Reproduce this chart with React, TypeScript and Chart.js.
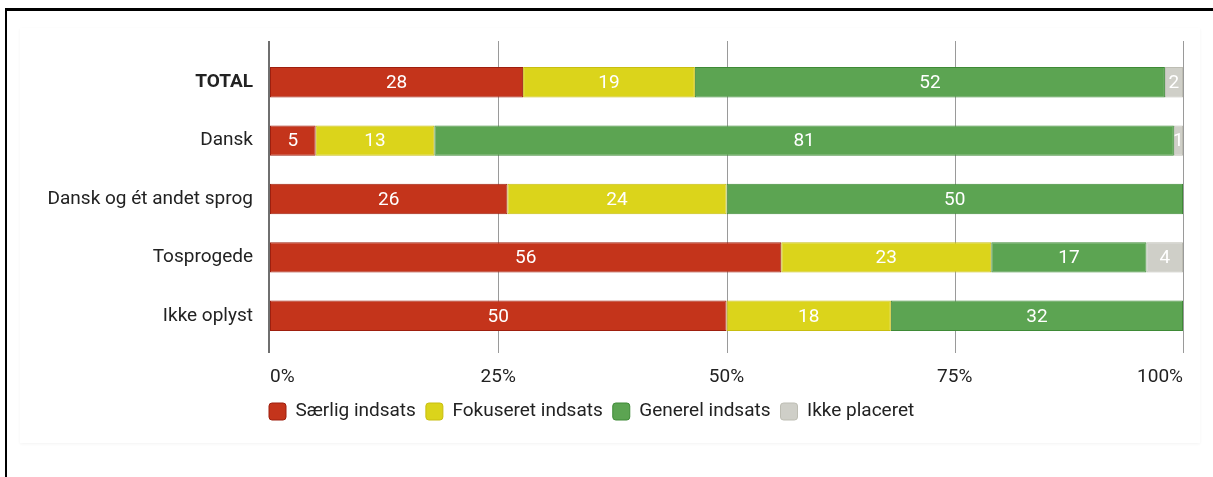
import React, { useEffect, useRef } from "react";
import { Chart, registerables } from "chart.js";

Chart.register(...registerables);

const categories = ["TOTAL", "Dansk", "Dansk og ét andet sprog", "Tosprogede", "Ikke oplyst"];
const seriesNames = ["Særlig indsats", "Fokuseret indsats", "Generel indsats", "Ikke placeret"];
const saerligIndsats = [28, 5, 26, 56, 50];
const fokuseretIndsats = [19, 13, 24, 23, 18];
const generelIndsats = [52, 81, 50, 17, 32];
const ikkePlaceret = [2, 1, 0, 4, 0];
const tickLabels = ["0%", "25%", "50%", "75%", "100%"];

const fillColors = ["#c4341b", "#dbd41b", "#5ca452", "#cfcfc8"];
const borderColors = ["#9e1f0e", "#c8be10", "#3e8a36", "#bdbdb3"];

const FONT = "Roboto, 'Noto Sans', sans-serif";
const FS = 19;

const seriesValues = [saerligIndsats, fokuseretIndsats, generelIndsats, ikkePlaceret];

export default function App() {
  const canvasRef = useRef<HTMLCanvasElement | null>(null);

  useEffect(() => {
    if (!canvasRef.current) return;
    const rowTotals = categories.map((_, j) =>
      seriesValues.reduce((s, arr) => s + arr[j], 0)
    );
    const datasets = seriesNames.map((name, i) => ({
      label: name,
      data: seriesValues[i].map((v, j) => (v / rowTotals[j]) * 100),
      rawValues: seriesValues[i],
      backgroundColor: fillColors[i],
      borderColor: borderColors[i],
      borderWidth: 1,
      borderSkipped: false as const,
      barPercentage: 0.52,
      categoryPercentage: 1,
    }));

    const gridPlugin = {
      id: "extendedGrid",
      beforeDatasetsDraw(chart: any) {
        const ctx = chart.ctx;
        const xs = chart.scales.x;
        const { top, bottom } = chart.chartArea;
        ctx.save();
        xs.ticks.forEach((t: any, i: number) => {
          const px = Math.round(xs.getPixelForValue(t.value));
          ctx.beginPath();
          if (i === 0) {
            ctx.strokeStyle = "#6f6f6f";
            ctx.lineWidth = 2;
            ctx.moveTo(px - 1, top - 12);
            ctx.lineTo(px - 1, bottom + 8);
          } else {
            ctx.strokeStyle = "#9a9a9a";
            ctx.lineWidth = 1;
            ctx.moveTo(px + 0.5, top - 12);
            ctx.lineTo(px + 0.5, bottom + 8);
          }
          ctx.stroke();
        });
        ctx.restore();
      },
    };

    const labelPlugin = {
      id: "barLabels",
      afterDatasetsDraw(chart: any) {
        const ctx = chart.ctx;
        ctx.save();
        ctx.font = `${FS}px ${FONT}`;
        ctx.fillStyle = "#ffffff";
        ctx.textAlign = "center";
        ctx.textBaseline = "middle";
        chart.data.datasets.forEach((ds: any, i: number) => {
          const meta = chart.getDatasetMeta(i);
          meta.data.forEach((bar: any, j: number) => {
            const v = ds.rawValues[j];
            if (!v) return;
            const cx = (bar.x + bar.base) / 2;
            ctx.fillText(String(v), cx, bar.y + 1);
          });
        });
        ctx.restore();
      },
    };

    const LEGEND_PAD = 10;
    const legendShift = {
      id: "legendShift",
      beforeDraw(chart: any) {
        if (chart.legend) {
          chart.legend.left = chart.chartArea.left - LEGEND_PAD - 1;
        }
      },
    };

    const chart = new Chart(canvasRef.current, {
      type: "bar",
      data: { labels: categories, datasets: datasets as any },
      plugins: [gridPlugin, labelPlugin, legendShift],
      options: {
        indexAxis: "y",
        animation: false,
        responsive: true,
        maintainAspectRatio: false,
        layout: { padding: { top: 25, right: 17, left: 0, bottom: 0 } },
        scales: {
          x: {
            stacked: true,
            min: 0,
            max: 100,
            grid: { display: false, drawTicks: false },
            border: { display: false },
            ticks: {
              stepSize: 25,
              align: "inner",
              padding: 21,
              color: "#222222",
              font: { family: FONT, size: FS },
              callback: (_v: any, i: number) => tickLabels[i],
            },
            afterFit: (scale: any) => {
              scale.height = 47;
              scale.paddingLeft = 0;
              scale.paddingRight = 0;
            },
          },
          y: {
            stacked: true,
            grid: { display: false, drawTicks: false },
            border: { display: false },
            ticks: {
              padding: 17,
              color: "#222222",
              font: (ctx: any) => ({
                family: FONT,
                size: FS,
                weight: ctx.index === 0 ? "bold" : "normal",
              }),
            },
            afterFit: (scale: any) => {
              scale.width = 250;
              scale.paddingTop = 0;
              scale.paddingBottom = 0;
            },
          },
        },
        plugins: {
          legend: {
            position: "bottom",
            align: "start",
            labels: {
              boxWidth: 17,
              boxHeight: 17,
              padding: LEGEND_PAD,
              useBorderRadius: true,
              borderRadius: 3,
              color: "#222222",
              font: { family: FONT, size: FS },
            },
          },
          tooltip: { enabled: false },
        },
      } as any,
    });
    return () => chart.destroy();
  }, []);

  return (
    <div style={{ position: "fixed", left: 0, top: 0, width: 1213, height: 477, background: "#fff", overflow: "hidden" }}>
      <div
        style={{
          position: "absolute",
          left: 5,
          top: 8,
          width: 1300,
          height: 600,
          borderTop: "3px solid #000",
          borderLeft: "2px solid #000",
          boxSizing: "border-box",
        }}
      />
      <div
        style={{
          position: "absolute",
          left: 20,
          top: 28,
          width: 1180,
          height: 415,
          background: "#fff",
          boxShadow: "0 1px 3px rgba(0,0,0,0.05)",
        }}
      />
      <div style={{ position: "absolute", left: 20, top: 28, width: 1180, height: 403 }}>
        <canvas ref={canvasRef} />
      </div>
    </div>
  );
}
